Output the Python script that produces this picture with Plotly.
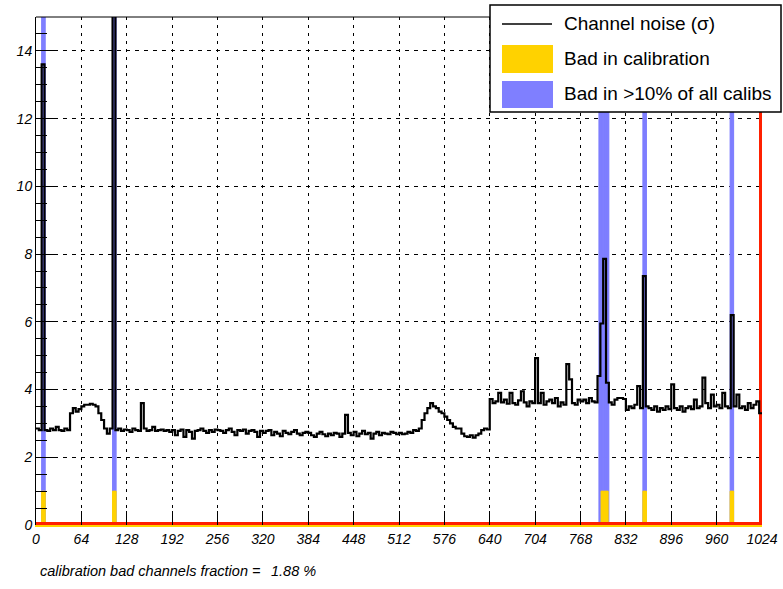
import numpy as np
import plotly.graph_objects as go

# ---------------- data ----------------
# channel noise (sigma), 4-channel bins, channels 0..1023
noise = [
    # ch 0-63
    2.85, 2.80, 13.6, 2.80, 2.78, 2.85, 2.80, 2.90, 2.80, 2.78, 2.85, 2.80, 3.30, 3.45, 3.35, 3.42,
    # ch 64-127
    3.50, 3.55, 3.55, 3.58, 3.55, 3.50, 3.30, 3.10, 2.85, 2.70, 2.85, 16.0, 2.80, 2.85, 2.78, 2.82,
    # ch 128-191
    2.80, 2.75, 2.85, 2.80, 2.78, 3.60, 2.85, 2.78, 2.80, 2.90, 2.78, 2.80, 2.82, 2.78, 2.80, 2.75,
    # ch 192-255
    2.80, 2.65, 2.78, 2.82, 2.60, 2.80, 2.75, 2.55, 2.78, 2.80, 2.85, 2.78, 2.72, 2.80, 2.75, 2.82,
    # ch 256-319
    2.80, 2.78, 2.72, 2.80, 2.85, 2.75, 2.65, 2.80, 2.78, 2.82, 2.70, 2.78, 2.80, 2.75, 2.60, 2.78,
    # ch 320-383
    2.72, 2.78, 2.80, 2.65, 2.75, 2.70, 2.62, 2.78, 2.72, 2.68, 2.75, 2.80, 2.70, 2.65, 2.72, 2.75,
    # ch 384-447
    2.72, 2.65, 2.60, 2.70, 2.75, 2.68, 2.62, 2.70, 2.65, 2.72, 2.70, 2.60, 2.70, 3.25, 2.72, 2.65,
    # ch 448-511
    2.75, 2.62, 2.70, 2.78, 2.68, 2.72, 2.55, 2.70, 2.75, 2.65, 2.72, 2.70, 2.68, 2.75, 2.72, 2.68,
    # ch 512-575
    2.72, 2.68, 2.70, 2.75, 2.72, 2.80, 2.78, 2.85, 3.10, 3.30, 3.45, 3.60, 3.50, 3.45, 3.35, 3.30,
    # ch 576-639
    3.20, 3.10, 3.00, 2.90, 2.85, 2.85, 2.70, 2.62, 2.60, 2.65, 2.58, 2.65, 2.70, 2.80, 2.85, 2.82,
    # ch 640-703
    3.72, 3.60, 3.65, 3.90, 3.62, 3.70, 3.58, 3.90, 3.60, 3.55, 3.68, 3.95, 3.62, 3.50, 3.65, 3.60,
    # ch 704-767
    4.93, 3.60, 3.90, 3.55, 3.65, 3.70, 3.60, 3.75, 3.50, 3.62, 3.55, 4.75, 4.30, 3.60, 3.55, 3.70,
    # ch 768-831
    3.65, 3.70, 3.60, 3.75, 3.65, 3.62, 4.40, 5.95, 7.86, 4.20, 3.62, 3.55, 3.70, 3.75, 3.75, 3.72,
    # ch 832-895
    3.40, 3.50, 3.45, 3.55, 4.10, 3.45, 7.35, 3.50, 3.45, 3.40, 3.50, 3.35, 3.45, 3.40, 3.50, 3.42,
    # ch 896-959
    4.15, 3.45, 3.40, 3.50, 3.35, 3.45, 3.50, 3.42, 3.70, 3.45, 3.50, 4.35, 3.60, 3.45, 3.85, 3.50,
    # ch 960-1023
    3.55, 3.45, 3.90, 3.50, 3.45, 6.20, 3.50, 3.85, 3.45, 3.50, 3.40, 3.60, 3.45, 3.55, 3.65, 3.30,
]
bin_width = 4
n_channels = 1024

bad_calib = [8, 9, 10, 11, 12, 108, 109, 110, 111, 112,
             797, 798, 799, 800, 801, 802, 803, 804, 805, 806,
             856, 857, 858, 859, 860, 979, 980, 981, 982, 983]
bad_calib_level = 1.0
bad_often = [8, 9, 10, 11, 12, 108, 109, 110, 111, 112,
             794, 795, 796, 797, 798, 799, 800, 801, 802, 803, 804, 805, 806, 807,
             856, 857, 858, 859, 860, 979, 980, 981, 982, 983]
bad_often_level = 15.0

dead_x = [0, 1024, 1024]
dead_y = [0, 0, 15]

x_ticks = [0, 64, 128, 192, 256, 320, 384, 448, 512, 576, 640, 704, 768, 832, 896, 960, 1024]
y_ticks = [0, 2, 4, 6, 8, 10, 12, 14]

bad_fraction = 1.88

legend_labels = ["Channel noise (\u03c3)", "Bad in calibration", "Bad in >10% of all calibs"]

# ---------------- styles ----------------
BLUE = "#7F7FFF"
GOLD = "#FFD200"
RED = "#FF2000"
FONT = "Liberation Sans"

W, H = 783, 589
L, R, T, B = 36, 21, 17, 64
PW, PH = W - L - R, H - T - B


def px_x(p):
    return (p - L) / PW


def px_y(p):
    return (T + PH - p) / PH


fig = go.Figure()

# bad in >10% of calibs
fig.add_trace(go.Bar(
    x=[c + 0.5 for c in bad_often], y=[bad_often_level] * len(bad_often), width=1,
    marker=dict(color=BLUE, line=dict(color=BLUE, width=1)), showlegend=False,
))
# bad in calibration
fig.add_trace(go.Bar(
    x=[c + 0.5 for c in bad_calib], y=[bad_calib_level] * len(bad_calib), width=1,
    marker=dict(color=GOLD, line=dict(color=GOLD, width=1)), showlegend=False,
))
# red outline
fig.add_trace(go.Scatter(
    x=dead_x, y=dead_y, mode="lines", line=dict(color=RED, width=6), showlegend=False,
))
# noise step line
edges = np.arange(0, n_channels, bin_width)
xs = np.append(edges, n_channels)
ys = np.append(noise, noise[-1])
fig.add_trace(go.Scatter(
    x=xs, y=ys, mode="lines", line=dict(color="black", width=2.2, shape="hv"), showlegend=False,
))

tickfont = dict(family=FONT, size=14, color="black", style="italic")

fig.update_layout(
    width=W, height=H,
    margin=dict(l=L, r=R, t=T, b=B, autoexpand=False),
    paper_bgcolor="white", plot_bgcolor="white",
    barmode="overlay", showlegend=False,
    xaxis=dict(
        range=[0, 1024], tickmode="array", tickvals=x_ticks, ticktext=[str(v) for v in x_ticks],
        ticks="inside", ticklen=14, tickcolor="black", tickwidth=1, automargin=False,
        showline=True, linecolor=GOLD, linewidth=2, mirror=False,
        showgrid=True, gridcolor="black", gridwidth=1, griddash="3px,5px",
        zeroline=False, tickfont=tickfont,
    ),
    yaxis=dict(
        range=[0, 15], tickmode="array", tickvals=y_ticks, ticktext=[str(v) for v in y_ticks],
        ticks="inside", ticklen=22, tickcolor="black", tickwidth=1, automargin=False,
        minor=dict(dtick=0.5, ticks="inside", ticklen=11, tickcolor="black", showgrid=False),
        showline=True, linecolor="black", linewidth=1, mirror=False,
        showgrid=True, gridcolor="black", gridwidth=1, griddash="4px,5px",
        zeroline=False, tickfont=tickfont,
    ),
)

shapes = []
# top frame border
shapes.append(dict(type="line", xref="paper", yref="paper", x0=0, x1=1, y0=1, y1=1,
                   line=dict(color="black", width=1)))
# legend box
shapes.append(dict(type="rect", xref="paper", yref="paper",
                   x0=px_x(490), x1=px_x(781), y0=px_y(112), y1=px_y(5),
                   fillcolor="white", line=dict(color="black", width=1.5), layer="above"))
shapes.append(dict(type="line", xref="paper", yref="paper",
                   x0=px_x(502), x1=px_x(552), y0=px_y(24), y1=px_y(24),
                   line=dict(color="black", width=1.5)))
shapes.append(dict(type="rect", xref="paper", yref="paper",
                   x0=px_x(502), x1=px_x(553), y0=px_y(73), y1=px_y(45),
                   fillcolor=GOLD, line=dict(width=0)))
shapes.append(dict(type="rect", xref="paper", yref="paper",
                   x0=px_x(502), x1=px_x(553), y0=px_y(108), y1=px_y(81),
                   fillcolor=BLUE, line=dict(width=0)))
fig.update_layout(shapes=shapes)

ann = []
for lbl, yc in zip(legend_labels, [24, 59, 94]):
    ann.append(dict(xref="paper", yref="paper", x=px_x(562), y=px_y(yc), text=lbl,
                    showarrow=False, xanchor="left", yanchor="middle",
                    font=dict(family=FONT, size=19, color="black")))
ann.append(dict(xref="paper", yref="paper", x=px_x(38), y=px_y(571),
                text="calibration bad channels fraction =",
                showarrow=False, xanchor="left", yanchor="middle",
                font=dict(family=FONT, size=14.5, color="black", style="italic")))
ann.append(dict(xref="paper", yref="paper", x=px_x(318), y=px_y(571),
                text=f"{bad_fraction:.2f} %",
                showarrow=False, xanchor="right", yanchor="middle",
                font=dict(family=FONT, size=14.5, color="black", style="italic")))
fig.update_layout(annotations=ann)

fig.write_html("out.html")
